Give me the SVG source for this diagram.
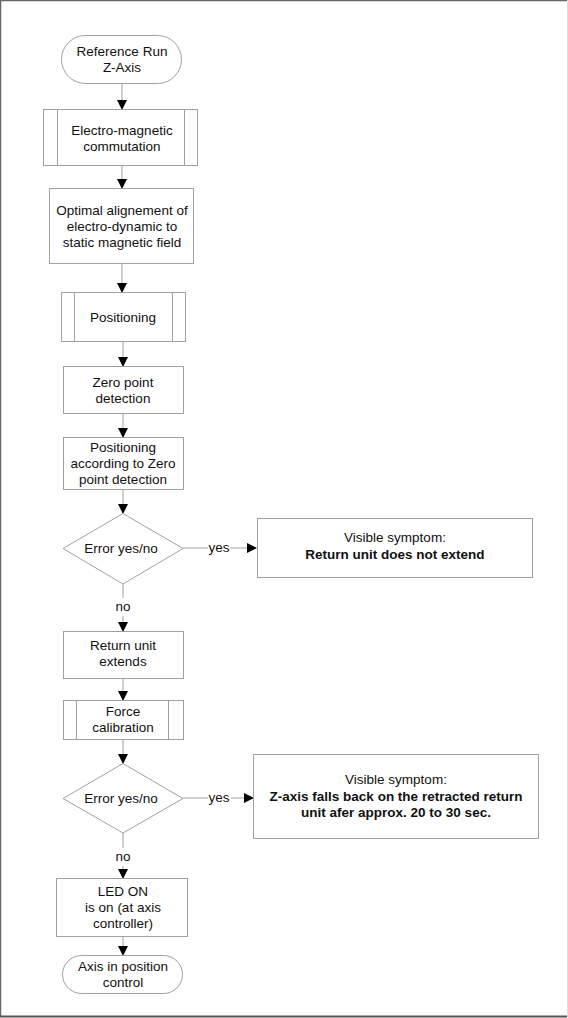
<svg xmlns="http://www.w3.org/2000/svg" width="568" height="1018" viewBox="0 0 568 1018">
<style>
.b{fill:#fff;stroke:#a0a0a0;stroke-width:1}
.t{font-family:"Liberation Sans",Arial,sans-serif;font-size:13.5px;fill:#111;text-anchor:middle}
.bd{font-weight:bold}
.c{stroke:#a0a0a0;stroke-width:1;fill:none}
</style>
<defs>
<marker id="ah" markerWidth="10" markerHeight="10" refX="9" refY="5" orient="auto" markerUnits="userSpaceOnUse">
<path d="M0,0 L10,5 L0,10 Z" fill="#000"/>
</marker>
</defs>
<rect x="0" y="0" width="568" height="1018" fill="#fff"/>
<path d="M0.5,1017 V0.5 H568" stroke="#666" stroke-width="1.5" fill="none"/>
<path d="M0,1016.5 H568" stroke="#555" stroke-width="2"/>
<path d="M567.5,0 V1018" stroke="#ddd" stroke-width="1"/>
<g id="connectors">
<path class="c" d="M122,83 V109" marker-end="url(#ah)"/>
<path class="c" d="M122,166 V188" marker-end="url(#ah)"/>
<path class="c" d="M122,264 V292" marker-end="url(#ah)"/>
<path class="c" d="M123,342 V366" marker-end="url(#ah)"/>
<path class="c" d="M123,413 V437" marker-end="url(#ah)"/>
<path class="c" d="M123,489 V513" marker-end="url(#ah)"/>
<path class="c" d="M183,548 H208"/>
<path class="c" d="M230,548 H256" stroke="#222" marker-end="url(#ah)"/>
<text class="t" x="219" y="552">yes</text>
<path class="c" d="M123,584 V598"/>
<text class="t" x="123" y="611">no</text>
<path class="c" d="M123,616 V631" marker-end="url(#ah)"/>
<path class="c" d="M123,678 V700" marker-end="url(#ah)"/>
<path class="c" d="M123,739 V763" marker-end="url(#ah)"/>
<path class="c" d="M183,798 H208"/>
<path class="c" d="M231,798 H253" stroke="#222" marker-end="url(#ah)"/>
<text class="t" x="219" y="802">yes</text>
<path class="c" d="M123,833 V848"/>
<text class="t" x="123" y="861">no</text>
<path class="c" d="M123,866 V878" marker-end="url(#ah)"/>
<path class="c" d="M123,937 V955" marker-end="url(#ah)"/>
</g>
<g id="start">
<rect class="b" x="61.5" y="35.5" width="120" height="48" rx="24"/>
<text class="t" x="122" y="56">Reference Run</text>
<text class="t" x="122" y="72">Z-Axis</text>
</g>
<g id="commutation">
<rect class="b" x="43.5" y="109.5" width="154" height="56"/>
<path class="c" d="M57.5,109.5 V165.5 M184.5,109.5 V165.5"/>
<text class="t" x="122" y="135">Electro-magnetic</text>
<text class="t" x="122" y="151">commutation</text>
</g>
<g id="alignment">
<rect class="b" x="49.5" y="188.5" width="144" height="75"/>
<text class="t" x="122" y="215">Optimal alignement of</text>
<text class="t" x="122" y="231">electro-dynamic to</text>
<text class="t" x="122" y="247">static magnetic field</text>
</g>
<g id="positioning">
<rect class="b" x="61.5" y="292.5" width="124" height="49"/>
<path class="c" d="M74.5,292.5 V341.5 M172.5,292.5 V341.5"/>
<text class="t" x="123" y="322">Positioning</text>
</g>
<g id="zero">
<rect class="b" x="63.5" y="366.5" width="120" height="47"/>
<text class="t" x="123" y="387">Zero point</text>
<text class="t" x="123" y="403">detection</text>
</g>
<g id="pos-zero">
<rect class="b" x="63.5" y="437.5" width="120" height="52"/>
<text class="t" x="123" y="452">Positioning</text>
<text class="t" x="123" y="468">according to Zero</text>
<text class="t" x="123" y="484">point detection</text>
</g>
<g id="dec1">
<polygon class="b" points="123,513.5 183,548.5 123,584 63,548.5"/>
<text class="t" x="121" y="553">Error yes/no</text>
</g>
<g id="sym1">
<rect class="b" x="257.5" y="518.5" width="275" height="59"/>
<text class="t" x="395" y="542">Visible symptom:</text>
<text class="t bd" x="395" y="559">Return unit does not extend</text>
</g>
<g id="extends">
<rect class="b" x="63.5" y="631.5" width="120" height="47"/>
<text class="t" x="123" y="650">Return unit</text>
<text class="t" x="123" y="666">extends</text>
</g>
<g id="force">
<rect class="b" x="63.5" y="700.5" width="120" height="39"/>
<path class="c" d="M76.5,700.5 V739.5 M168.5,700.5 V739.5"/>
<text class="t" x="123" y="716">Force</text>
<text class="t" x="123" y="732">calibration</text>
</g>
<g id="dec2">
<polygon class="b" points="123,763.5 183,798.5 123,833 63,798.5"/>
<text class="t" x="121" y="803">Error yes/no</text>
</g>
<g id="sym2">
<rect class="b" x="253.5" y="754.5" width="285" height="84"/>
<text class="t" x="396" y="784">Visible symptom:</text>
<text class="t bd" x="396" y="801">Z-axis falls back on the retracted return</text>
<text class="t bd" x="396" y="817">unit afer approx. 20 to 30 sec.</text>
</g>
<g id="led">
<rect class="b" x="56.5" y="878.5" width="131" height="58"/>
<text class="t" x="123" y="896">LED ON</text>
<text class="t" x="123" y="912">is on (at axis</text>
<text class="t" x="123" y="928">controller)</text>
</g>
<g id="end">
<rect class="b" x="62.5" y="955.5" width="120" height="38" rx="19"/>
<text class="t" x="123" y="971">Axis in position</text>
<text class="t" x="123" y="987">control</text>
</g>
</svg>
